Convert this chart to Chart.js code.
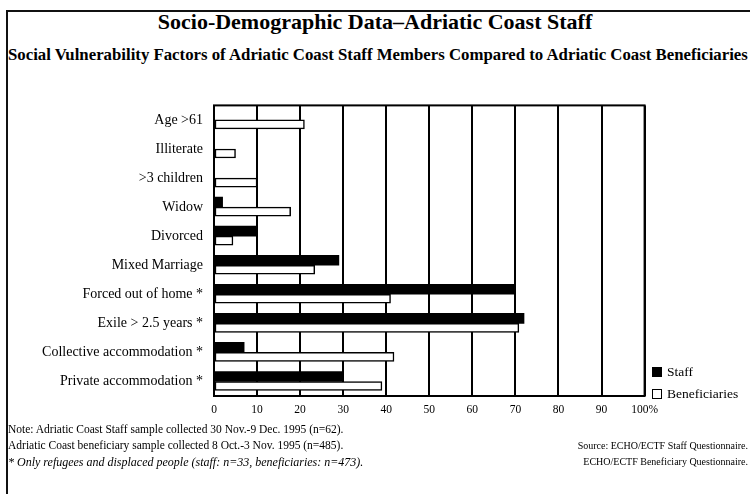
<!DOCTYPE html>
<html>
<head>
<meta charset="utf-8">
<script src="https://cdn.jsdelivr.net/npm/chart.js@4/dist/chart.umd.min.js"></script>
<style>
  body { margin: 0; background: #fff; }
  #page { position: relative; width: 750px; height: 494px; overflow: hidden; font-family: "Liberation Serif", serif; color: #000; }
  #frameTop { position: absolute; left: 6px; top: 10px; width: 744px; height: 2px; background: #111; }
  #frameLeft { position: absolute; left: 6px; top: 10px; width: 2px; height: 484px; background: #111; }
  #title { position: absolute; left: 0; width: 750px; top: 9px; text-align: center; font-weight: bold; font-size: 22px; }
  #subtitle { position: absolute; left: 8px; top: 45px; white-space: nowrap; font-weight: bold; font-size: 16.8px; }
  #wrap { position: absolute; left: 0; top: 86px; width: 665px; height: 339px; }
  .leg { position: absolute; left: 652px; font-size: 13.5px; white-space: nowrap; }
  .leg span { display: inline-block; width: 8px; height: 8px; border: 1.5px solid #000; margin-right: 5px; vertical-align: -1px; }
  .note { position: absolute; font-size: 11.5px; white-space: nowrap; }
</style>
</head>
<body>
<div id="page">
  <div id="frameTop"></div>
  <div id="frameLeft"></div>
  <div id="title">Socio-Demographic Data–Adriatic Coast Staff</div>
  <div id="subtitle">Social Vulnerability Factors of Adriatic Coast Staff Members Compared to Adriatic Coast Beneficiaries</div>
  <div id="wrap"><canvas id="mycanvas"></canvas></div>
  <div class="leg" style="top:364px"><span style="background:#000"></span>Staff</div>
  <div class="leg" style="top:386px"><span style="background:#fff"></span>Beneficiaries</div>
  <div class="note" style="left:8px;top:423px">Note: Adriatic Coast Staff sample collected 30 Nov.-9 Dec. 1995 (n=62).</div>
  <div class="note" style="left:8px;top:439px">Adriatic Coast beneficiary sample collected 8 Oct.-3 Nov. 1995 (n=485).</div>
  <div class="note" style="left:8px;top:455px;font-style:italic;font-size:12px">* Only refugees and displaced people (staff: n=33, beneficiaries: n=473).</div>
  <div class="note" style="right:2px;top:440px;text-align:right;font-size:10px">Source: ECHO/ECTF Staff Questionnaire.</div>
  <div class="note" style="right:2px;top:456px;text-align:right;font-size:10px">ECHO/ECTF Beneficiary Questionnaire.</div>
</div>
<script>
var categories = ['Age >61', 'Illiterate', '>3 children', 'Widow', 'Divorced', 'Mixed Marriage',
  'Forced out of home *', 'Exile > 2.5 years *', 'Collective accommodation *', 'Private accommodation *'];
var staff = [0, 0, 0, 2, 10, 29, 70, 72, 7, 30];
var beneficiaries = [21, 5, 10, 17.8, 4.4, 23.4, 41, 70.8, 41.8, 39];
var xTicks = [0, 10, 20, 30, 40, 50, 60, 70, 80, 90, 100];

// box round the plot area, drawn over the grid but under the bars
var frame = {
  id: 'frame',
  beforeDatasetsDraw: function(chart) {
    var a = chart.chartArea, ctx = chart.ctx;
    ctx.save();
    ctx.strokeStyle = '#000';
    ctx.lineWidth = 2;
    ctx.strokeRect(a.left, a.top, a.right - a.left, a.bottom - a.top);
    ctx.restore();
  }
};

var ctx = document.getElementById('mycanvas');
var barGraph = new Chart(ctx, {
  type: 'bar',
  data: {
    labels: categories,
    datasets: [
      {
        label: 'Staff',
        data: staff,
        backgroundColor: '#000',
        borderWidth: 0,
        barThickness: 10
      },
      {
        label: 'Beneficiaries',
        data: beneficiaries,
        backgroundColor: '#fff',
        borderColor: '#000',
        borderWidth: 1.5,
        borderSkipped: false,
        barThickness: 9
      }
    ]
  },
  options: {
    indexAxis: 'y',
    responsive: true,
    maintainAspectRatio: false,
    animation: false,
    layout: { padding: { top: 0, right: 20, bottom: 5, left: 0 } },
    plugins: { legend: { display: false }, tooltip: { enabled: false } },
    scales: {
      x: {
        min: 0,
        max: 100,
        afterBuildTicks: function(scale) {
          scale.ticks = xTicks.map(function(v) { return { value: v }; });
        },
        afterFit: function(scale) { scale.height = 24; },
        grid: { color: '#000', lineWidth: 2, drawTicks: false },
        border: { display: false },
        ticks: {
          padding: 7,
          color: '#000',
          font: { family: 'Liberation Serif', size: 11.5 },
          callback: function(v) { return v === 100 ? '100%' : v; }
        }
      },
      y: {
        afterFit: function(scale) { scale.width = 214; },
        grid: { display: false, drawTicks: false },
        border: { display: false },
        ticks: {
          padding: 11,
          color: '#000',
          font: { family: 'Liberation Serif', size: 14 }
        }
      }
    }
  },
  plugins: [frame]
});
</script>
</body>
</html>
